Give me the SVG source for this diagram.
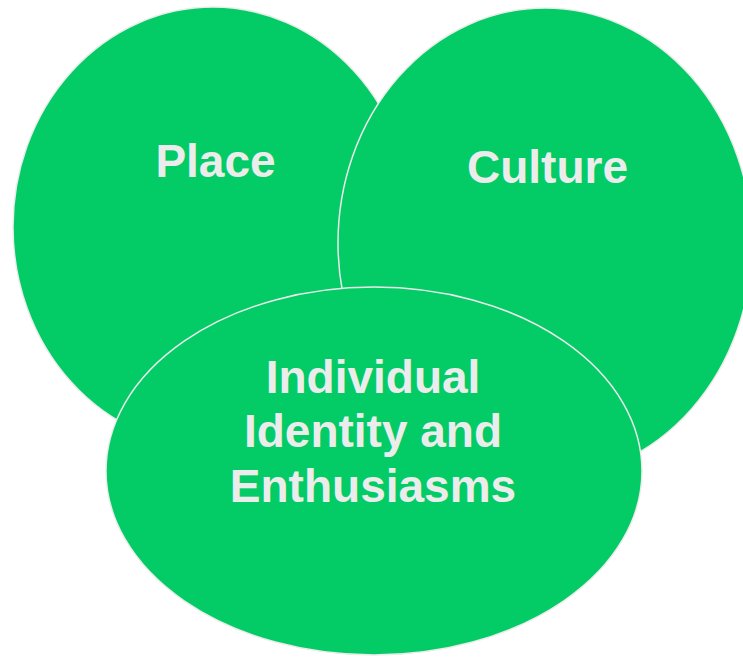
<svg xmlns="http://www.w3.org/2000/svg" width="743" height="657" viewBox="0 0 743 657">
<style>
.c{fill:#03cc66;stroke:#ececec;stroke-width:1.5}
.t{font-family:"Liberation Sans",Arial,sans-serif;font-weight:bold;font-size:46px;fill:#ececec;text-anchor:middle}
</style>
<rect width="743" height="657" fill="#ffffff"/>
<g id="place">
<ellipse class="c" cx="213" cy="227" rx="200" ry="220"/>
<text class="t" x="215.5" y="177">Place</text>
</g>
<g id="culture">
<ellipse class="c" cx="545" cy="243" rx="207" ry="235"/>
<text class="t" x="547.5" y="183">Culture</text>
</g>
<g id="individual">
<ellipse class="c" cx="374" cy="471" rx="268" ry="184"/>
<text class="t" x="373" y="393">Individual</text>
<text class="t" x="373" y="447">Identity and</text>
<text class="t" x="373" y="502">Enthusiasms</text>
</g>
<g id="connectors"></g>
</svg>
